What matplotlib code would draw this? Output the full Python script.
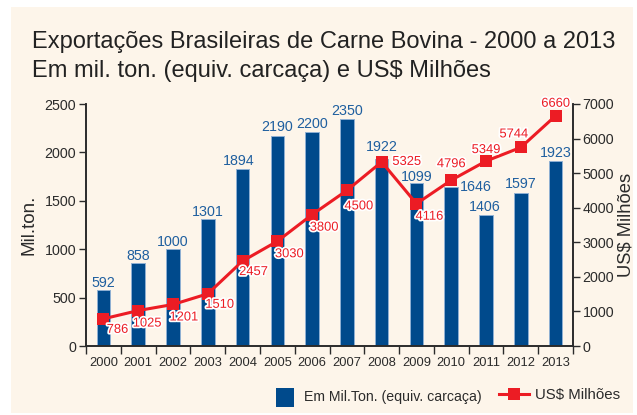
import matplotlib.pyplot as plt
import matplotlib.patheffects as pe
from matplotlib.patches import Rectangle
from matplotlib.lines import Line2D

plt.rcParams['font.family'] = ['Liberation Sans', 'DejaVu Sans']

years = ['2000', '2001', '2002', '2003', '2004', '2005', '2006',
         '2007', '2008', '2009', '2010', '2011', '2012', '2013']
# bar heights as drawn in the picture, labels as printed
toneladas = [579, 859, 1003, 1310, 1831, 2172, 2207, 2345, 1931, 1683, 1641, 1355, 1583, 1907]
toneladas_txt = ['592', '858', '1000', '1301', '1894', '2190', '2200',
                 '2350', '1922', '1099', '1646', '1406', '1597', '1923']
milhoes = [786, 1025, 1201, 1510, 2457, 3030, 3800, 4500, 5325, 4116, 4796, 5349, 5744, 6660]

# label offsets in pixels
bar_dx = [0, 0, 0, 0, -4, 0, 0, 0, 0, 0, 25, -1, 0, 0]
bar_dy = [7, 7, 7, 7, 8, 9, 8, 8, 12, 6, 0, 8, 9, 8]
line_dx = [14, 9, 11, 12, 11, 12, 12, 12, 25, 13, 0, 0, -7, 0]
line_dy = [-11, -13, -13, -11, -11, -13, -13, -16, 0, -13, 16, 11, 13, 12]

azul = '#004a8c'
azul_txt = '#1f5f9f'
vermelho = '#ec1c24'
creme = '#fdf5ea'
cinza = '#2b2b2b'

fig = plt.figure(figsize=(6.37, 4.15), dpi=100)
fig.patch.set_facecolor('white')
fig.add_artist(Rectangle((11/637, 2/415), 622/637, 406/415, transform=fig.transFigure,
                         facecolor=creme, edgecolor='none', zorder=-10))

ax = fig.add_axes([86/637, 1 - 346/415, 487/637, 242/415])
ax.set_facecolor('none')
x = list(range(len(years)))
ax.bar(x, toneladas, width=0.39, color=azul, edgecolor='#8fb0d3', linewidth=0.7, zorder=2)
ax.set_xlim(-0.5, len(years) - 0.5)
ax.set_ylim(0, 2500)
ax.set_yticks(range(0, 2501, 500))
ax.set_xticks(x)
ax.set_xticklabels(years, fontsize=9.3)
ax.set_xticks([i - 0.5 for i in range(len(years) + 1)], minor=True)
ax.tick_params(axis='x', which='major', length=0, pad=8, colors=cinza)
ax.tick_params(axis='x', which='minor', length=6, width=1, direction='out', color=cinza)
ax.tick_params(axis='y', length=5, width=1, labelsize=10.3, colors=cinza, pad=2)
for s in ['left', 'bottom', 'right']:
    ax.spines[s].set_color(cinza)
    ax.spines[s].set_linewidth(1.2)
ax.spines['top'].set_visible(False)
ax.set_ylabel('Mil.ton.', fontsize=13.6, color=cinza, labelpad=5)

for i, v in enumerate(toneladas):
    ax.annotate(toneladas_txt[i], (x[i], v), xytext=(bar_dx[i], bar_dy[i]),
                textcoords='offset pixels', ha='center', va='center',
                fontsize=10.3, color=azul_txt, zorder=3)

ax2 = ax.twinx()
ax2.plot(x, milhoes, color=vermelho, linewidth=2.2, marker='s', markersize=8.5,
         markeredgewidth=0, zorder=4)
ax2.set_ylim(0, 7000)
ax2.set_yticks(range(0, 7001, 1000))
ax2.tick_params(axis='y', length=5, width=1, labelsize=10.3, colors=cinza, pad=2)
for s in ['left', 'bottom', 'right']:
    ax2.spines[s].set_color(cinza)
    ax2.spines[s].set_linewidth(1.2)
ax2.spines['top'].set_visible(False)
ax2.set_ylabel('US$ Milhões', fontsize=13.2, color=cinza, labelpad=2)

halo = [pe.withStroke(linewidth=2.5, foreground='white')]
for i, v in enumerate(milhoes):
    ax2.annotate(str(v), (x[i], v), xytext=(line_dx[i], line_dy[i]),
                 textcoords='offset pixels', ha='center', va='center',
                 fontsize=9.3, color=vermelho, path_effects=halo, zorder=5)

fig.text(32/637, 1 - 48/415, 'Exportações Brasileiras de Carne Bovina - 2000 a 2013',
         fontsize=17, color='#222222', va='baseline')
fig.text(32/637, 1 - 77/415, 'Em mil. ton. (equiv. carcaça) e US$ Milhões',
         fontsize=17, color='#222222', va='baseline')

# legenda
fig.add_artist(Rectangle((276/637, 1 - 407/415), 18/637, 19/415, transform=fig.transFigure,
                         facecolor=azul, edgecolor='none'))
fig.text(304/637, 1 - 397/415, 'Em Mil.Ton. (equiv. carcaça)', fontsize=10.2,
         color=cinza, va='center')
fig.add_artist(Line2D([499/637, 529/637], [1 - 394/415, 1 - 394/415], transform=fig.transFigure,
                      color=vermelho, linewidth=2.2))
fig.add_artist(Line2D([514/637], [1 - 394/415], transform=fig.transFigure,
                      color=vermelho, marker='s', markersize=8, markeredgewidth=0, linestyle='none'))
fig.text(535/637, 1 - 395/415, 'US$ Milhões', fontsize=10.8, color=cinza, va='center')

fig.savefig('out.png', dpi=100, facecolor=fig.get_facecolor())
